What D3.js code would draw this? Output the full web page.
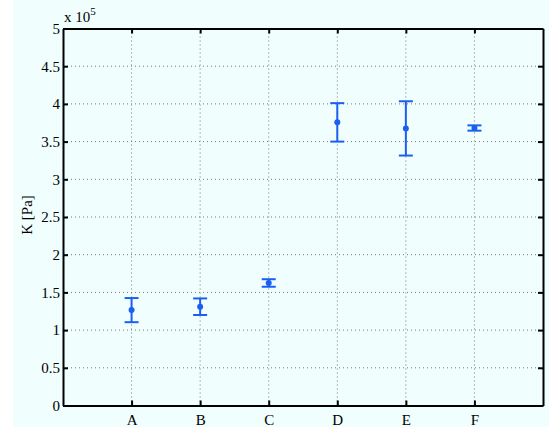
<!DOCTYPE html>
<html>
<head>
<meta charset="utf-8">
<script src="https://cdn.jsdelivr.net/npm/d3@7"></script>
<style>
  body { margin: 0; background: #fff; }
  text { font-family: "Liberation Serif", "Times New Roman", serif; font-size: 15px; fill: #000; }
</style>
</head>
<body>
<div id="chart"></div>
<script>
// data, in units of 1e5 Pa
var categories = ["A", "B", "C", "D", "E", "F"];
var means = [1.265, 1.31, 1.625, 3.755, 3.675, 3.68];
var errors = [0.16, 0.11, 0.05, 0.255, 0.36, 0.035];
var yTicks = [0, 0.5, 1, 1.5, 2, 2.5, 3, 3.5, 4, 4.5, 5];

var W = 549, H = 427;
var margin = { top: 28.5, left: 63, bottom: 21.5, right: 6 },
    width = W - margin.left - margin.right,
    height = H - margin.top - margin.bottom;

var root = d3.select("#chart").append("svg")
    .attr("width", W)
    .attr("height", H);

root.append("rect")
    .attr("x", 13).attr("y", 0)
    .attr("width", W - 13).attr("height", H)
    .attr("fill", "#f0fefe");

var svg = root.append("g")
    .attr("transform", "translate(" + margin.left + "," + margin.top + ")");

var x = d3.scaleLinear().domain([0, 7]).range([0, width]);
var y = d3.scaleLinear().domain([0, 5]).range([height, 0]);

var blue = "#1a5ff2";

// grid
svg.selectAll(".hgrid")
    .data(yTicks.slice(1, -1))
    .enter().append("line")
    .attr("class", "hgrid")
    .attr("x1", 0).attr("x2", width)
    .attr("y1", function (d) { return y(d); })
    .attr("y2", function (d) { return y(d); })
    .attr("stroke", "#777")
    .attr("stroke-width", 1)
    .attr("stroke-dasharray", "1,3");

svg.selectAll(".vgrid")
    .data(categories)
    .enter().append("line")
    .attr("class", "vgrid")
    .attr("y1", 0).attr("y2", height)
    .attr("x1", function (d, i) { return x(i + 1); })
    .attr("x2", function (d, i) { return x(i + 1); })
    .attr("stroke", "#777")
    .attr("stroke-width", 1)
    .attr("stroke-dasharray", "1,3");

// axes (ticks inward)
var yAxisL = d3.axisLeft(y).tickValues(yTicks).tickSizeInner(-5).tickSizeOuter(0).tickPadding(3)
    .tickFormat(function (d) { return d3.format("")(d); });
var yAxisR = d3.axisRight(y).tickValues(yTicks).tickSizeInner(-5).tickSizeOuter(0).tickFormat("");
var xAxisB = d3.axisBottom(x).tickValues(d3.range(1, 7)).tickSizeInner(-5).tickSizeOuter(0).tickPadding(9)
    .tickFormat(function (d) { return categories[d - 1]; });
var xAxisT = d3.axisTop(x).tickValues(d3.range(1, 7)).tickSizeInner(-5).tickSizeOuter(0).tickFormat("");

function styleAxis(g) {
  g.select(".domain").attr("stroke", "#000").attr("stroke-width", 2);
  g.selectAll(".tick line").attr("stroke", "#000").attr("stroke-width", 2);
  g.selectAll("text").attr("font-family", null).attr("font-size", null);
}

svg.append("g").attr("class", "y_axis").call(yAxisL).call(styleAxis);
svg.append("g").attr("transform", "translate(" + width + ",0)").call(yAxisR).call(styleAxis);
svg.append("g").attr("class", "x_axis").attr("transform", "translate(0," + height + ")").call(xAxisB).call(styleAxis);
svg.append("g").call(xAxisT).call(styleAxis);

// error bars
var capW = 7;
var bars = svg.selectAll(".err")
    .data(categories)
    .enter().append("g")
    .attr("class", "err");

bars.append("line")
    .attr("x1", function (d, i) { return x(i + 1); })
    .attr("x2", function (d, i) { return x(i + 1); })
    .attr("y1", function (d, i) { return y(means[i] + errors[i]); })
    .attr("y2", function (d, i) { return y(means[i] - errors[i]); })
    .attr("stroke", blue).attr("stroke-width", 2);

bars.append("line")
    .attr("x1", function (d, i) { return x(i + 1) - capW; })
    .attr("x2", function (d, i) { return x(i + 1) + capW; })
    .attr("y1", function (d, i) { return y(means[i] + errors[i]); })
    .attr("y2", function (d, i) { return y(means[i] + errors[i]); })
    .attr("stroke", blue).attr("stroke-width", 2);

bars.append("line")
    .attr("x1", function (d, i) { return x(i + 1) - capW; })
    .attr("x2", function (d, i) { return x(i + 1) + capW; })
    .attr("y1", function (d, i) { return y(means[i] - errors[i]); })
    .attr("y2", function (d, i) { return y(means[i] - errors[i]); })
    .attr("stroke", blue).attr("stroke-width", 2);

bars.append("circle")
    .attr("cx", function (d, i) { return x(i + 1); })
    .attr("cy", function (d, i) { return y(means[i]); })
    .attr("r", 3)
    .attr("fill", blue);

// y label
svg.append("text")
    .attr("transform", "rotate(-90)")
    .attr("x", -height / 2 + 2)
    .attr("y", -31)
    .attr("text-anchor", "middle")
    .text("K [Pa]");

// exponent label
var ex = svg.append("text")
    .attr("x", 1)
    .attr("y", -7);
ex.append("tspan").text("x 10");
ex.append("tspan").attr("dy", -7).style("font-size", "11px").text("5");
</script>
</body>
</html>
